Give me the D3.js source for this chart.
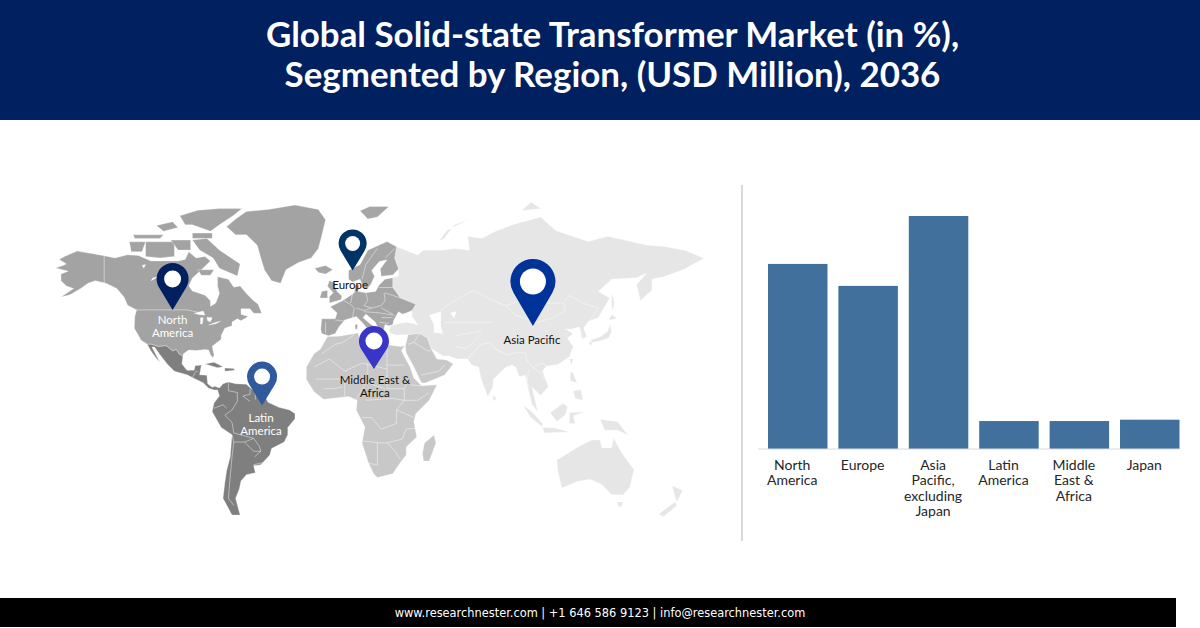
<!DOCTYPE html>
<html>
<head>
<meta charset="utf-8">
<script src="https://cdn.jsdelivr.net/npm/d3@7"></script>
<style>
html,body{margin:0;padding:0;background:#fff}
svg{display:block}
text{font-family:Lato,"Open Sans",sans-serif}
</style>
</head>
<body>
<svg id="chart" width="1200" height="628"></svg>
<script>
// ---- bar chart data, shares
const categories = ["North America","Europe","Asia Pacific, excluding Japan","Latin America","Middle East & Africa","Japan"];
const shares = [27.8,24.5,35,4.2,4.2,4.4];
const tickLines = [["North","America"],["Europe"],["Asia","Pacific,","excluding","Japan"],["Latin","America"],["Middle","East &","Africa"],["Japan"]];

const titleLines = ["Global Solid-state Transformer Market (in %),","Segmented by Region, (USD Million), 2036"];
const footerText = "www.researchnester.com | +1 646 586 9123 | info@researchnester.com";

// ---- map pins [lon,lat] of the tip
const pinNames = ["North America","Latin America","Europe","Middle East & Africa","Asia Pacific"];
const pinTips = [[-103,49],[-53.3,-1.5],[7.1,62],[18.2,20],[101,40.4]];
const pinLabels = [["North","America"],["Latin","America"],["Europe"],["Middle East &","Africa"],["Asia Pacific"]];

// ---- land outlines, lon/lat. west = Americas, Greenland, Iceland; east = the rest
const northAmerica = [
 [[-168,65.6],[-164,66.5],[-162,67],[-166,68.5],[-163,69.5],[-156,71.2],[-148,70.4],[-141,69.7],[-135,69],[-128,70],[-122,69.8],[-115,68],[-108,68],[-100,68],[-96,68.5],[-94,71],[-90,69],[-85,69.5],[-82,68],[-87,65],[-92,62],[-94,59],[-92,57],[-85,55.3],[-82,53],[-82,50.5],[-79,52],[-77,56],[-78,59],[-78,62.5],[-72,61.5],[-69,58.5],[-65.5,59],[-62,56],[-58,53],[-55.5,51.5],[-53.5,47.5],[-58,47.5],[-60,49.5],[-65,49.5],[-65,47],[-61,46],[-65,44],[-67,45],[-70,43.5],[-70,41.7],[-74,40.5],[-76,37],[-76,35],[-81,31.5],[-80,27],[-80.5,25.2],[-82,27],[-83,29.5],[-85,29.7],[-90,29.2],[-94,29.5],[-97,27.5],[-97.3,26],[-99.5,27.5],[-101,29.7],[-103,29],[-106.5,31.7],[-111,31.3],[-114.8,32.5],[-117.1,32.5],[-120.5,34.5],[-122.5,37.8],[-124.3,40.5],[-124,46],[-123,49],[-128,51],[-130,54.5],[-134,58],[-140,60],[-146,61],[-150,60],[-154,58],[-160,55.5],[-165,54.5],[-158,58],[-162,59],[-165,61],[-165,63.5],[-161,64.5]],
 [[-92,74.5],[-84,75],[-77,71.5],[-65.5,67],[-67,62.7],[-77,65.5],[-80.5,69],[-88,71.5]],
 [[-89,65],[-80,65],[-82,63],[-87,63]],
 [[-118,74],[-102,74],[-102,69.5],[-110,69],[-118,69.5]],
 [[-127,74],[-118,74],[-120,71],[-126,71]],
 [[-125,76],[-108,76],[-110,75],[-124,75]],
 [[-104,74.5],[-93,74.5],[-93,71.5],[-100,71.5]],
 [[-99,81],[-89,82.3],[-77,82.7],[-64.5,82.7],[-69.4,81],[-77,78.7],[-82,77],[-92,78.7],[-96,78.7]],
 [[-92,76.5],[-81,76.5],[-81,75],[-92,75]],
 [[-112,78.5],[-103,79.5],[-100,78],[-108,77]],
 [[-73,78.2],[-68,80.2],[-62,82],[-50,82.5],[-35,83.5],[-22,82.5],[-18,80],[-20,76],[-22,72],[-26,69],[-33,67.5],[-40,65],[-43,60],[-48,61],[-52,65],[-54,69],[-56,73],[-62,76],[-68,76]]
];
const latinAmerica = [
 [[-117.1,32.5],[-114.8,32.5],[-111,31.3],[-106.5,31.7],[-103,29],[-101,29.7],[-99.5,27.5],[-97.3,26],[-97.8,22],[-95,18.5],[-91,18.6],[-90.5,21],[-87,21.5],[-88,16],[-84,15.8],[-83.5,11],[-81,9],[-79.5,9.5],[-77,8.6],[-75,11],[-72,12],[-68,11],[-62,10.7],[-57,6],[-52,4.5],[-50,0.5],[-44,-2.5],[-38,-4],[-35,-6],[-35,-9],[-39,-14],[-39,-18],[-41,-22],[-48,-25.5],[-49,-29],[-54,-34],[-58,-34.5],[-57,-38],[-62,-39],[-65,-42],[-66,-46],[-68,-50],[-65.5,-57],[-70,-57],[-75,-50],[-74,-43],[-73,-37],[-71,-30],[-70,-18],[-76,-14],[-81,-5],[-80,0],[-77,4],[-78,7.5],[-80,7.5],[-83,8.5],[-86,11.5],[-91,14],[-95,16],[-102,18],[-106,22],[-110,27],[-113,31],[-114.5,31],[-112,26.5],[-110,23],[-112,25],[-115,29]],
 [[-85,22],[-80,23],[-75,20.5],[-78,20]],
 [[-74,19.8],[-69,19.5],[-68.5,18.5],[-74,18]]
];
const iceland = [[[-24,65.5],[-18,66.5],[-14,65],[-18,63.5],[-22,64]]];
const europe = [
 [[-9,37],[-9.5,39],[-9,43.5],[-2,43.5],[-1,46],[-4.5,48.5],[2,51],[4,52],[8,54],[8.5,57],[10.5,57],[10,54.5],[14,54],[19,54.5],[21,57],[24,59],[28,59.5],[28,56],[32,52],[40,49.5],[38,47],[35,46],[33,45.5],[31,46.5],[28.5,43],[28,41],[26,40.5],[24,41],[23,38],[22,36.5],[19.5,41],[19,42],[14,45.5],[12.5,44],[16,41.5],[18.5,40],[16,38],[12,42],[9,44.5],[3,43],[0,40],[-2,37],[-5.5,36]],
 [[5,59],[7,58],[11,59],[12.5,56],[14.5,55.5],[16.5,57],[18.5,60],[17,62],[21,65],[25,65.5],[21.5,62.5],[22,60],[28,60.5],[31,62.5],[29,66],[30,69.5],[25,71],[15,68.5],[11,64],[5,62]],
 [[-5,50],[1,51.3],[1.5,52.8],[-1,54.5],[-2,56],[-2,57.5],[-5,58.5],[-6,56.5],[-3,54],[-5,52.5]],
 [[-10,52],[-6,52],[-6,55],[-9,54.5]],
 [[12.5,38],[15.5,38],[15,36.8]],
 [[8.3,41],[9.7,41],[9.5,39],[8.5,39]],
 [[11,79],[16,80],[26,80],[20,77.5],[15,77]]
];
const africa = [
 [[-17,14.7],[-17,21],[-13,27.5],[-9.5,30],[-6,35.7],[0,35.8],[10,37.3],[11,33.5],[15,32.3],[20,31],[25,31.8],[32,31],[34.2,31.3],[32.5,29],[37,21],[39,15.5],[43,11.5],[51,12],[47,4],[40,-3],[39,-7],[40.5,-15],[35,-20],[35,-24],[32.5,-27],[28,-33],[20,-34.8],[18,-33],[15,-27],[12,-18],[13.5,-10],[9,-1],[9.5,4],[5,6],[-4,5],[-8,4.5],[-13,8.5]],
 [[34.5,31],[36,36.5],[42,37],[46,35],[48,30],[51,25],[56,24.5],[59.5,22.5],[55,17],[45,13],[43,13],[39,21],[35,28]],
 [[49.5,-14],[50.5,-18],[47,-27],[44,-27],[43.5,-23],[44.5,-18]]
];
const asiaPacific = [
 [[26,38.5],[27,40.5],[29,41],[35,42],[41,41],[38,44.5],[38,47],[40,49.5],[32,52],[28,56],[28,59.5],[31,60],[31,62.5],[29,66],[30,69.5],[41,67],[44,68.5],[54,68.5],[60,69],[68,68.5],[67,72.5],[73,72],[75,72],[80,73.5],[90,75.5],[105,77.5],[113,74],[130,71],[140,72.5],[160,70],[170,69.5],[180,68.5],[190,66],[180,62.5],[170,60],[163,59],[163,55],[157,51],[155,57],[160,61],[155,59.5],[142,59],[135,54.5],[141,52],[135,44],[130,42.5],[127.5,39.5],[129,35.5],[126.5,34.5],[126,37.5],[125,40],[121,39],[118,39],[122,37],[119,35],[122,31],[120,26],[114,22.3],[108,21.5],[106,19],[109,11],[105,6.5],[100.5,11],[103.5,-2],[100.5,2],[98.5,10],[97,17],[94,16],[92,21],[90,22],[87,21],[80.5,15],[80,10.5],[77.5,6],[74,15],[72.8,21],[69,22],[67,25],[61.5,25],[57,26.5],[54,26.5],[50,29],[48,30],[46,35],[42,37],[36,36.5],[30,36.3],[27,37]],
 [[52,71],[56,74],[68,77],[60,75.5],[55,72]],
 [[95,79],[105,79.5],[100,81]],
 [[142,54],[143.5,50],[142.5,46.5],[142,50]],
 [[140.5,43],[145,43.5],[142,45.3]],
 [[131,34],[136,35.5],[140,38],[141,41],[142,38],[140.5,35],[136,33.7],[132,33]],
 [[130,33.5],[132,33],[131,31]],
 [[120,25],[122,25],[121,22]],
 [[80,7],[82,5],[80.5,3.5]],
 [[96,1.5],[101,-2.5],[106,-8],[106,-10],[99.5,-4.5]],
 [[106,-10],[113,-10.5],[120,-12.5],[107,-13]],
 [[110,-2.5],[116.7,2.5],[119,0.5],[118,-3.5],[113.5,-7]],
 [[120,-2.5],[128,-2],[122,-4],[123,-8],[120,-8]],
 [[120.5,18.5],[122,18],[124,13],[120.5,14]],
 [[122,9],[126,9.5],[127,4],[123,5]],
 [[136,-6],[145,-7],[150.5,-14],[145,-11.5],[138.5,-11.5]],
 [[113.5,-26.5],[124.5,-20],[131.7,-16.5],[136,-16.5],[137,-20.5],[142,-20.5],[143,-15.5],[147.3,-23],[153.6,-31],[151.5,-39],[148,-42.5],[142,-42.5],[137,-38],[130.7,-35.5],[124.5,-36.5],[116,-39.5],[114,-32]],
 [[145,-45.5],[148,-45.5],[147,-47.5],[145.5,-47.5]],
 [[173.5,-38.5],[179,-40.5],[176,-45.5],[174.5,-42]],
 [[175,-45.5],[176,-47],[169,-51.5],[166.5,-50.5]]
];
// lakes and inland seas punched out in white
const westLakes = [
 [[-91,47.5],[-86,48.5],[-85,46.7],[-88,46.8]],
 [[-87.5,45.5],[-86,45.5],[-86.5,42.5],[-87.5,42.5]],
 [[-84,45.7],[-81,45.5],[-82,43.5],[-83.5,44]],
 [[-83,42],[-79,43.3],[-76.5,43.8],[-79,42.6]],
 [[-120,66.5],[-118,66.8],[-119,65.5]],
 [[-114,62],[-111,62.5],[-115,61]]
];
const eastLakes = [
 [[47,45],[53,46.5],[53,40],[54,37],[49.5,37.5],[49.5,41]],
 [[58,46],[61,46.5],[60,44]],
 [[103.5,51.5],[110,55.5],[109,53]]
];
// white borders
const westBorders = [
 [[-141,69.7],[-141,60]],[[-123,49],[-95,49],[-89,48]],
 [[-92,14.5],[-90,18],[-89,18]],
 [[-72,12],[-72,7],[-67,6],[-67,1],[-70,-4],[-74,-7],[-70,-11],[-69,-17],[-58,-20],[-55,-24],[-54,-27],[-57.5,-30]],
 [[-60,8],[-60,5],[-64,4],[-60,1]],[[-57,6],[-57,2]],[[-54,5.5],[-54,2]],
 [[-80,-3],[-75,-1],[-73,-3]],
 [[-70,-18],[-69,-22],[-70,-30],[-71,-40],[-72,-50],[-69,-53]],
 [[-69,-22],[-63,-22],[-58,-20]],[[-63,-22],[-58,-27],[-54,-27]],[[-58,-34],[-53,-33]]
];
const eastBorders = [
 [[-2,43],[3,42.5]],[[-7,42],[-7,37]],[[2.5,51],[6,49.5],[8,48],[7,44]],[[7,53.5],[6,50]],
 [[14,54],[15,51],[13,49],[17,48],[22,49],[24,51],[23.5,54]],[[9,48],[13,47],[17,48]],[[13,46.5],[21,46],[29,45]],
 [[22,48],[28,45.5]],[[22,44],[28,44]],[[21,42],[26,41.5]],
 [[12,59],[14,64],[20,69]],[[24,66],[29,69]],[[21,56],[28,56]],[[24,54],[32,52]],
 [[-9,27.5],[-2,32],[2,33],[8,36.5]],[[-13,21],[-5,25],[3,19],[12,23],[25,20]],[[25,31.8],[25,10],[34,10],[36,14]],
 [[34,22],[25,22]],[[15,23],[15,13],[24,10]],[[-12,15],[3,15],[14,13]],[[3,15],[3,6]],[[-8,10],[-3,10],[2,11]],
 [[14,13],[9,4.5]],[[14,4],[28,5],[34,4],[41,4],[47,8]],[[34,10],[34,4],[30,-1],[39,-5]],
 [[12,-5],[17,-5],[22,-11],[30,-8],[30,-1]],[[12,-17],[22,-18],[25,-18],[33,-16],[35,-11],[40,-10.5]],
 [[20,-18],[20,-29],[16,-28]],[[25,-18],[29,-22],[32,-26]],[[37,12],[43,11.5]],
 [[43,17],[52,19],[55,22]],[[36,32],[39,33],[42,37]],[[39,33],[46,29],[48,29]],
 [[61,36],[66,37],[74,38]],[[61,31],[66,30],[70,33],[74,37]],[[67,25],[70,28],[74,32],[79,33],[81,30],[88,27],[92,28],[97,28]],
 [[50,45],[58,50],[70,55],[80,51],[87,49],[98,52],[107,50],[117,50],[120,53],[127,50],[135,48],[131,43]],
 [[87,49],[92,45],[103,42],[112,44],[118,47],[117,50]],[[55,42],[66,42],[74,42],[80,42]],
 [[97,28],[98,24],[101,21],[106,23],[108,21.5]],[[101,21],[105,18],[107,15]],[[99,20],[98,15],[99,10]]
];

const svg = d3.select("#chart");

// miller style y, the source map looks like it
const miller = lat => 1.25*Math.log(Math.tan(Math.PI/4 + 0.4*lat*Math.PI/180));
const westX = d3.scaleLinear().domain([-180,0]).range([34,358]);
const westY = d3.scaleLinear().domain([0,1]).range([403,303]);
const eastX = d3.scaleLinear().domain([0,180]).range([339,684.6]);
const eastY = d3.scaleLinear().domain([0,1]).range([408,298]);
const westLine = d3.line().x(d => westX(d[0])).y(d => westY(miller(d[1])));
const eastLine = d3.line().x(d => eastX(d[0])).y(d => eastY(miller(d[1])));

// header, footer
svg.append("rect").attr("width",1200).attr("height",120).attr("fill","#002060");
svg.selectAll(".title").data(titleLines).enter().append("text").attr("class","title")
  .attr("x",612.5).attr("y",(d,i) => 47+i*39.5).attr("text-anchor","middle")
  .attr("fill","#fff").attr("font-size",34.9).attr("font-weight",700).text(d => d);
svg.append("rect").attr("y",598).attr("width",1176).attr("height",29).attr("fill","#000");
svg.append("text").attr("x",600).attr("y",617).attr("text-anchor","middle")
  .attr("fill","#fff").attr("font-size",11.4).style("font-family","'DejaVu Sans'").text(footerText);

// map
function drawLand(rings,line,color){
  svg.append("g").selectAll("path").data(rings).enter().append("path")
    .attr("d",d => line(d)+"Z").attr("fill",color).attr("stroke","#fff").attr("stroke-width",0.3);
}
function drawBorders(lines,line){
  svg.append("g").selectAll("path").data(lines).enter().append("path")
    .attr("d",d => line(d)).attr("fill","none").attr("stroke","#fff").attr("stroke-width",0.6).attr("stroke-opacity",0.75);
}
drawLand(asiaPacific,eastLine,"#e6e6e6");
drawLand(africa,eastLine,"#c8c8c8");
drawLand(europe,eastLine,"#a6a6a6");
drawLand(iceland,westLine,"#a6a6a6");
drawLand(northAmerica,westLine,"#a3a3a3");
drawLand(latinAmerica,westLine,"#7f7f7f");
drawLand(westLakes,westLine,"#fff");
drawLand(eastLakes,eastLine,"#fff");
drawBorders(westBorders,westLine);
drawBorders(eastBorders,eastLine);

// pins
const pinColors = ["#002060","#2f5a9e","#003366","#3a35c9","#003399"];
const pinTextColors = ["#fff","#fff","#111","#111","#111"];
const pinHeights = [47,44,41,43,67];
const pinRadii = [16,15,14,15,22.5];
const holeRadii = [8.5,8,7.5,8.5,13];
const labelOffsets = [[0,14],[-1,16],[-2.5,18],[1,15],[-1,18]];

function pinPath(r,h){
  const d = h-r, s = r/d, c = Math.sqrt(1-s*s);
  const p = d3.path();
  p.moveTo(0,0);
  p.lineTo(-r*c,-d+r*s);
  p.arc(0,-d,r,Math.PI-Math.asin(s),Math.asin(s),false);
  p.closePath();
  return p.toString();
}
const pins = pinNames.map((name,i) => {
  const west = i<2;
  return {
    x: west ? westX(pinTips[i][0]) : eastX(pinTips[i][0]),
    y: west ? westY(miller(pinTips[i][1])) : eastY(miller(pinTips[i][1])),
    color: pinColors[i], h: pinHeights[i], r: pinRadii[i], hole: holeRadii[i],
    label: pinLabels[i], textColor: pinTextColors[i], off: labelOffsets[i]
  };
});
const pinG = svg.append("g").selectAll("g").data(pins).enter().append("g")
  .attr("transform",d => `translate(${d.x},${d.y})`);
pinG.append("path").attr("d",d => pinPath(d.r,d.h)).attr("fill",d => d.color);
pinG.append("circle").attr("cy",d => -(d.h-d.r)).attr("r",d => d.hole).attr("fill","#fff");
pinG.each(function(d){
  const t = d3.select(this).append("text").attr("text-anchor","middle").attr("fill",d.textColor).attr("font-size",11.5);
  d.label.forEach((l,i) => t.append("tspan").attr("x",d.off[0]).attr("y",d.off[1]+i*13).text(l));
});

// bar chart
const x = d3.scaleBand().domain(categories).range([768,1179.5]).paddingInner(0.155);
const y = d3.scaleLinear().domain([0,35]).range([449,216]);

svg.append("line").attr("x1",742).attr("x2",742).attr("y1",185).attr("y2",541).attr("stroke","#d9d9d9").attr("stroke-width",2);

svg.selectAll(".bar").data(shares).enter().append("rect").attr("class","bar")
  .attr("x",(d,i) => x(categories[i])).attr("y",d => y(d))
  .attr("width",x.bandwidth()).attr("height",d => y(0)-y(d)).attr("fill","#41709c");

svg.append("line").attr("x1",x.range()[0]-10).attr("x2",x.range()[1]).attr("y1",y(0)).attr("y2",y(0)).attr("stroke","#d9d9d9");

const axis = svg.append("g").attr("transform",`translate(0,${y(0)})`).call(d3.axisBottom(x).tickSize(0));
axis.select(".domain").remove();
axis.selectAll("text").each(function(d,i){
  const t = d3.select(this).text(null).attr("dy",null).attr("y",null).attr("text-anchor","middle").attr("fill","#262626")
    .style("font-family","Lato").style("font-size","14px");
  tickLines[i].forEach((l,j) => t.append("tspan").attr("x",-5.5).attr("y",21+j*15.4).text(l));
});
</script>
</body>
</html>
